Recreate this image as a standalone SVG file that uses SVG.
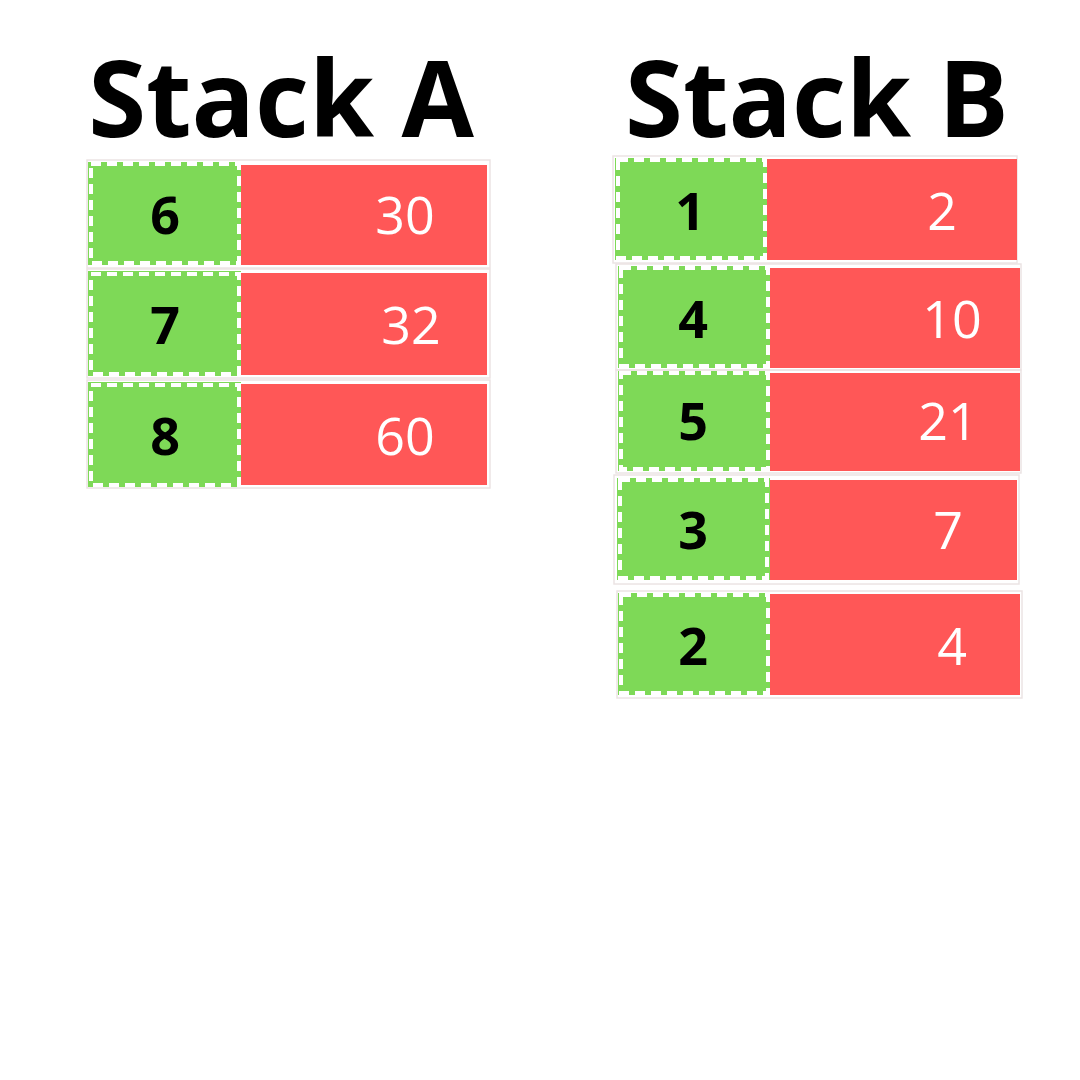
<svg xmlns="http://www.w3.org/2000/svg" width="1080" height="1080" viewBox="0 0 1080 1080">
<style>
.title{font-family:"Open Sans","Liberation Sans",sans-serif;font-weight:700;font-size:105px;fill:#000;text-anchor:middle}
.key{font-family:"Open Sans","Liberation Sans",sans-serif;font-weight:700;font-size:52px;fill:#000;text-anchor:middle}
.val{font-family:"Open Sans","Liberation Sans",sans-serif;font-weight:400;font-size:52px;fill:#fff;text-anchor:middle}
.g{fill:#7ED957}
.r{fill:#FF5757}
.d{fill:none;stroke:#fff;stroke-width:4;stroke-dasharray:10 6}
.o{fill:none;stroke:#ebe4e4;stroke-width:1.5}
</style>
<rect width="1080" height="1080" fill="#fff"/>
<text class="title" x="281" y="137">Stack A</text>
<text class="title" x="817" y="137">Stack B</text>

<g id="a1">
<rect class="o" x="87" y="160" width="403" height="108"/>
<rect class="r" x="241" y="165" width="246" height="100"/>
<rect class="g" x="88" y="162" width="153" height="103"/>
<rect class="d" x="91" y="164" width="148" height="99"/>
<text class="key" x="165" y="234">6</text>
<text class="val" x="405" y="234">30</text>
</g>
<g id="a2">
<rect class="o" x="87" y="269" width="403" height="109"/>
<rect class="r" x="241" y="273" width="246" height="102"/>
<rect class="g" x="88" y="271" width="153" height="105"/>
<rect class="d" x="91" y="274" width="148" height="100"/>
<text class="key" x="165" y="344">7</text>
<text class="val" x="411" y="344">32</text>
</g>
<g id="a3">
<rect class="o" x="87" y="380" width="403" height="108"/>
<rect class="r" x="241" y="384" width="246" height="101"/>
<rect class="g" x="88" y="382" width="153" height="105"/>
<rect class="d" x="91" y="385" width="148" height="100"/>
<text class="key" x="165" y="455">8</text>
<text class="val" x="405" y="455">60</text>
</g>

<g id="b1">
<rect class="o" x="613" y="156" width="404" height="107"/>
<rect class="r" x="767" y="159" width="250" height="101"/>
<rect class="g" x="615" y="158" width="152" height="102"/>
<rect class="d" x="618" y="160" width="147" height="98"/>
<text class="key" x="690" y="230">1</text>
<text class="val" x="942" y="230">2</text>
</g>
<g id="b2">
<rect class="o" x="616" y="264" width="405" height="106"/>
<rect class="r" x="770" y="268" width="250" height="100"/>
<rect class="g" x="618" y="266" width="152" height="102"/>
<rect class="d" x="621" y="268" width="147" height="98"/>
<text class="key" x="693" y="338">4</text>
<text class="val" x="952" y="338">10</text>
</g>
<g id="b3">
<rect class="o" x="616" y="370" width="405" height="103"/>
<rect class="r" x="770" y="373" width="250" height="98"/>
<rect class="g" x="618" y="371" width="152" height="100"/>
<rect class="d" x="621" y="373" width="147" height="96"/>
<text class="key" x="693" y="440">5</text>
<text class="val" x="948" y="440">21</text>
</g>
<g id="b4">
<rect class="o" x="614" y="475" width="405" height="109"/>
<rect class="r" x="770" y="480" width="247" height="100"/>
<rect class="g" x="617" y="478" width="153" height="102"/>
<rect class="d" x="620" y="480" width="147" height="98"/>
<text class="key" x="693" y="549">3</text>
<text class="val" x="948" y="549">7</text>
</g>
<g id="b5">
<rect class="o" x="617" y="591" width="405" height="107"/>
<rect class="r" x="770" y="594" width="250" height="101"/>
<rect class="g" x="618" y="593" width="152" height="102"/>
<rect class="d" x="621" y="595" width="147" height="98"/>
<text class="key" x="693" y="665">2</text>
<text class="val" x="952" y="665">4</text>
</g>
</svg>
